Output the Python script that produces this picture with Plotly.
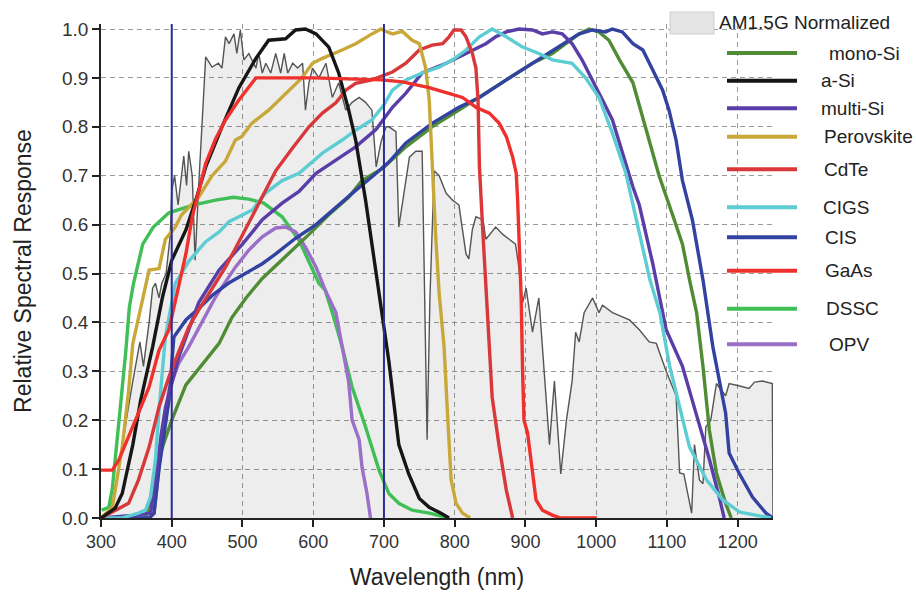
import plotly.graph_objects as go

# ---------------- data ----------------
am_wl = [300, 310, 320, 330, 338, 345, 355, 360, 368, 373, 377, 382, 386, 392, 398, 400, 404, 409, 417, 421, 424, 429,
         433, 438, 448, 457, 466, 471, 476, 481, 488, 492, 497, 502, 509, 519, 523, 528, 533, 540, 547, 554, 559, 564,
         571, 578, 585, 589, 594, 599, 608, 618, 627, 636, 646, 655, 665, 674, 683, 689, 696, 703, 707, 717, 721, 736,
         745, 754, 758, 761, 765, 771, 778, 788, 797, 806, 816, 820, 825, 830, 840, 844, 858, 868, 877, 886, 890, 896,
         901, 910, 919, 927, 934, 941, 950, 958, 966, 971, 976, 983, 995, 1004, 1009, 1023, 1047, 1061, 1075, 1085,
         1099, 1113, 1118, 1124, 1135, 1139, 1146, 1151, 1155, 1162, 1170, 1183, 1188, 1203, 1216, 1224, 1235, 1249,
         1250]
am_val = [0.0, 0.01, 0.05, 0.15, 0.22, 0.28, 0.36, 0.31, 0.40, 0.47, 0.48, 0.45, 0.48, 0.50, 0.58, 0.67, 0.70, 0.64,
          0.74, 0.68, 0.75, 0.70, 0.527, 0.677, 0.943, 0.922, 0.93, 0.92, 0.984, 0.97, 0.99, 0.95, 0.998, 0.937, 0.95,
          0.92, 0.95, 0.91, 0.93, 0.91, 0.95, 0.91, 0.95, 0.91, 0.93, 0.92, 0.93, 0.834, 0.89, 0.92, 0.90, 0.93, 0.86,
          0.89, 0.834, 0.85, 0.86, 0.85, 0.834, 0.718, 0.77, 0.80, 0.80, 0.79, 0.595, 0.738, 0.75, 0.75, 0.45, 0.16,
          0.45, 0.71, 0.70, 0.664, 0.65, 0.64, 0.54, 0.53, 0.59, 0.616, 0.61, 0.57, 0.595, 0.58, 0.57, 0.56, 0.52, 0.44,
          0.47, 0.38, 0.45, 0.30, 0.15, 0.28, 0.09, 0.20, 0.28, 0.38, 0.36, 0.42, 0.45, 0.42, 0.435, 0.42, 0.405, 0.385,
          0.36, 0.357, 0.30, 0.25, 0.092, 0.09, 0.01, 0.15, 0.078, 0.07, 0.186, 0.20, 0.275, 0.25, 0.275, 0.27, 0.265,
          0.278, 0.28, 0.275, 0.0]

mono_si_wl = [363, 370, 377, 400, 420, 448, 467, 485, 505, 528, 561, 580, 594, 622, 650, 669, 698, 731, 768, 806, 835,
              873, 910, 938, 957, 976, 990, 1004, 1018, 1033, 1052, 1070, 1089, 1108, 1122, 1132, 1142, 1151, 1160,
              1170, 1183, 1191]
mono_si = [0.0, 0.04, 0.104, 0.2, 0.272, 0.323, 0.357, 0.41, 0.45, 0.49, 0.534, 0.56, 0.58, 0.62, 0.656, 0.69, 0.715,
           0.759, 0.80, 0.834, 0.86, 0.896, 0.93, 0.95, 0.97, 0.99, 1.0, 0.994, 0.977, 0.937, 0.89, 0.80, 0.70, 0.62,
           0.56, 0.487, 0.42, 0.31, 0.18, 0.092, 0.03, 0.0]

a_si_wl = [300, 320, 330, 345, 356, 373, 387, 400, 420, 434, 448, 471, 495, 519, 537, 561, 575, 589, 604, 622, 636, 650,
           660, 674, 689, 693, 707, 721, 735, 750, 764, 780, 792]
a_si = [0.0, 0.02, 0.05, 0.15, 0.24, 0.35, 0.452, 0.527, 0.589, 0.65, 0.718, 0.80, 0.88, 0.94, 0.977, 0.98, 0.998, 1.0,
        0.99, 0.963, 0.91, 0.835, 0.773, 0.65, 0.50, 0.46, 0.32, 0.15, 0.09, 0.04, 0.022, 0.01, 0.0]

multi_si_wl = [300, 344, 370, 377, 385, 391, 410, 438, 467, 500, 528, 556, 580, 604, 632, 660, 689, 712, 731, 754, 788,
               816, 844, 858, 873, 891, 910, 924, 938, 952, 966, 980, 995, 1009, 1023, 1037, 1052, 1061, 1080, 1099,
               1122, 1141, 1160, 1174, 1181]
multi_si = [0.0, 0.005, 0.01, 0.078, 0.17, 0.225, 0.33, 0.44, 0.507, 0.56, 0.61, 0.644, 0.668, 0.705, 0.732, 0.759,
            0.795, 0.84, 0.869, 0.91, 0.93, 0.95, 0.97, 0.984, 0.994, 1.0, 0.998, 0.99, 0.994, 0.99, 0.97, 0.937, 0.896,
            0.855, 0.814, 0.746, 0.677, 0.64, 0.52, 0.385, 0.31, 0.215, 0.12, 0.043, 0.0]

perov_wl = [300, 316, 330, 339, 345, 355, 368, 382, 391, 405, 414, 438, 457, 476, 490, 499, 513, 537, 556, 584, 599,
            613, 641, 660, 683, 696, 703, 712, 726, 740, 750, 759, 764, 768, 773, 778, 785, 790, 795, 802, 811, 822]
perov = [0.0, 0.022, 0.145, 0.26, 0.357, 0.425, 0.507, 0.51, 0.57, 0.595, 0.62, 0.656, 0.70, 0.73, 0.773, 0.78, 0.807,
         0.834, 0.86, 0.90, 0.93, 0.94, 0.957, 0.97, 0.99, 1.0, 0.995, 0.99, 0.995, 0.977, 0.97, 0.92, 0.855, 0.718,
         0.58, 0.46, 0.35, 0.21, 0.078, 0.03, 0.01, 0.0]

cdte_wl = [300, 320, 339, 353, 368, 382, 396, 410, 424, 438, 457, 476, 495, 523, 547, 570, 594, 613, 632, 646, 660, 683,
           712, 731, 750, 768, 783, 792, 799, 809, 816, 825, 830, 833, 835, 840, 844, 849, 853, 863, 873, 882]
cdte = [0.0, 0.016, 0.03, 0.078, 0.145, 0.227, 0.288, 0.34, 0.39, 0.425, 0.47, 0.513, 0.565, 0.644, 0.71, 0.755, 0.80,
        0.828, 0.849, 0.875, 0.889, 0.896, 0.912, 0.93, 0.957, 0.967, 0.97, 0.984, 0.998, 0.998, 0.984, 0.95, 0.92,
        0.855, 0.718, 0.58, 0.47, 0.35, 0.247, 0.145, 0.057, 0.0]

cigs_wl = [300, 330, 353, 363, 370, 377, 382, 391, 405, 424, 448, 467, 481, 514, 533, 556, 580, 613, 641, 660, 683,
           700, 712, 731, 754, 778, 797, 816, 835, 853, 873, 896, 919, 938, 966, 985, 1004, 1023, 1042, 1061, 1076,
           1090, 1104, 1118, 1132, 1156, 1179, 1203, 1226, 1247]
cigs = [0.0, 0.0, 0.01, 0.016, 0.043, 0.12, 0.22, 0.37, 0.48, 0.525, 0.565, 0.585, 0.606, 0.63, 0.665, 0.69, 0.705,
        0.746, 0.773, 0.793, 0.814, 0.845, 0.875, 0.896, 0.91, 0.922, 0.937, 0.957, 0.984, 1.0, 0.984, 0.963, 0.95,
        0.937, 0.93, 0.90, 0.86, 0.787, 0.705, 0.58, 0.487, 0.42, 0.31, 0.227, 0.145, 0.078, 0.037, 0.012, 0.006,
        0.0]

cis_wl = [300, 368, 375, 382, 389, 396, 403, 420, 443, 457, 480, 505, 528, 547, 575, 604, 632, 660, 689, 707, 731, 768,
          806, 835, 873, 910, 948, 976, 995, 1013, 1023, 1037, 1052, 1066, 1080, 1094, 1103, 1113, 1122, 1136, 1151,
          1165, 1183, 1188, 1202, 1221, 1240, 1250]
cis = [0.0, 0.0, 0.01, 0.1, 0.17, 0.24, 0.37, 0.405, 0.435, 0.455, 0.48, 0.50, 0.52, 0.54, 0.572, 0.60, 0.636, 0.67,
       0.705, 0.728, 0.767, 0.807, 0.84, 0.86, 0.896, 0.93, 0.963, 0.99, 0.998, 0.994, 1.0, 0.994, 0.97, 0.957, 0.916,
       0.875, 0.834, 0.773, 0.69, 0.61, 0.487, 0.35, 0.215, 0.133, 0.092, 0.043, 0.01, 0.0]

gaas_wl = [300, 316, 325, 339, 353, 368, 382, 396, 405, 420, 429, 438, 448, 462, 476, 495, 509, 519, 600, 697, 726, 764,
           788, 811, 830, 849, 863, 873, 882, 887, 889, 892, 894, 896, 898, 903, 910, 915, 924, 938, 950, 1001]
gaas = [0.098, 0.098, 0.118, 0.165, 0.215, 0.268, 0.343, 0.385, 0.446, 0.54, 0.616, 0.67, 0.725, 0.775, 0.814, 0.855,
        0.88, 0.90, 0.90, 0.896, 0.892, 0.88, 0.87, 0.86, 0.84, 0.828, 0.807, 0.78, 0.738, 0.705, 0.65, 0.55, 0.45,
        0.30, 0.20, 0.174, 0.092, 0.037, 0.016, 0.006, 0.0, 0.0]

dssc_wl = [301, 311, 316, 322, 330, 335, 340, 346, 359, 374, 396, 430, 462, 487, 509, 530, 556, 580, 608, 617, 627, 641,
           655, 674, 693, 707, 721, 740, 764, 792]
dssc = [0.016, 0.022, 0.06, 0.145, 0.26, 0.34, 0.43, 0.48, 0.56, 0.595, 0.624, 0.64, 0.65, 0.656, 0.652, 0.644, 0.616,
        0.568, 0.48, 0.466, 0.42, 0.35, 0.268, 0.186, 0.098, 0.05, 0.03, 0.016, 0.01, 0.0]

opv_wl = [300, 368, 375, 382, 389, 396, 410, 424, 443, 462, 471, 490, 509, 528, 547, 561, 575, 589, 604, 617, 632, 641,
          650, 655, 665, 669, 676, 681]
opv = [0.0, 0.0, 0.01, 0.112, 0.2, 0.262, 0.317, 0.35, 0.40, 0.452, 0.472, 0.513, 0.548, 0.575, 0.593, 0.595, 0.585,
       0.554, 0.513, 0.466, 0.42, 0.35, 0.28, 0.2, 0.16, 0.104, 0.05, 0.0]

names = ["mono-Si", "a-Si", "multi-Si", "Perovskite", "CdTe", "CIGS", "CIS", "GaAs", "DSSC", "OPV"]
xs = [mono_si_wl, a_si_wl, multi_si_wl, perov_wl, cdte_wl, cigs_wl, cis_wl, gaas_wl, dssc_wl, opv_wl]
ys = [mono_si, a_si, multi_si, perov, cdte, cigs, cis, gaas, dssc, opv]
colors = ["#4f8c34", "#161616", "#5a3ea8", "#c9a83a", "#d8383a", "#5dcdd3", "#3242a0", "#f0302c", "#3fbf55", "#9b6ec8"]

band_edges = [400, 700]
x_ticks = [300, 400, 500, 600, 700, 800, 900, 1000, 1100, 1200]
y_ticks = [0.0, 0.1, 0.2, 0.3, 0.4, 0.5, 0.6, 0.7, 0.8, 0.9, 1.0]

# ---------------- figure ----------------
W, H = 916, 594
L, R, T, B = 101, 143, 24, 76
PW, PH = W - L - R, H - T - B
FONT = "Liberation Sans, Arial, sans-serif"


def px_x(p):
    return (p - L) / PW


def px_y(p):
    return (H - B - p) / PH


fig = go.Figure()
fig.add_trace(go.Scatter(x=am_wl, y=am_val, mode="lines", fill="tozeroy",
                         fillcolor="rgba(0,0,0,0.07)", line=dict(color="#555555", width=1.4),
                         name="AM1.5G Normalized", showlegend=False, hoverinfo="skip"))

for xv in band_edges:
    fig.add_shape(type="line", xref="x", yref="paper", x0=xv, x1=xv, y0=0, y1=1,
                  line=dict(color="#2b2b95", width=2))

draw_order = [8, 9, 0, 6, 2, 5, 4, 3, 1, 7]
for i in draw_order:
    fig.add_trace(go.Scatter(x=xs[i], y=ys[i], mode="lines", name=names[i],
                             line=dict(color=colors[i], width=3.4), showlegend=False))

# manual legend (layout only)
leg_y_px = [53, 80.7, 108.3, 136.7, 169.3, 207.3, 237.3, 270.7, 308.7, 344.3]
leg_tx_px = [827, 819, 819, 822, 822, 821, 823, 823, 824, 827]
for i, n in enumerate(names):
    yy = px_y(leg_y_px[i])
    fig.add_shape(type="line", xref="paper", yref="paper", x0=px_x(727), x1=px_x(797), y0=yy, y1=yy,
                  line=dict(color=colors[i], width=4))
    fig.add_annotation(xref="paper", yref="paper", x=px_x(leg_tx_px[i]), y=yy, text=n, showarrow=False,
                       xanchor="left", yanchor="middle", font=dict(family=FONT, size=19, color="#222222"))

fig.add_shape(type="rect", xref="paper", yref="paper", x0=px_x(670), x1=px_x(714), y0=px_y(34), y1=px_y(12),
              fillcolor="#e4e4e4", line=dict(color="#cfcfcf", width=1))
fig.add_annotation(xref="paper", yref="paper", x=px_x(717), y=px_y(23), text="AM1.5G Normalized", showarrow=False,
                   xanchor="left", yanchor="middle", font=dict(family=FONT, size=19, color="#222222"))

grid = dict(showgrid=True, gridcolor="#9a9a9a", gridwidth=1, griddash="5px,4px", zeroline=False)
fig.update_layout(
    width=W, height=H, margin=dict(l=L, r=R, t=T, b=B, autoexpand=False),
    paper_bgcolor="white", plot_bgcolor="white",
    font=dict(family=FONT, color="#333333"),
    xaxis=dict(range=[300, 1250], tickvals=x_ticks, ticks="outside", ticklen=7, tickwidth=1.5,
               tickcolor="#222222", showline=True, linecolor="#222222", linewidth=1.5, automargin=False,
               tickfont=dict(size=18, color="#333333"),
               title=dict(text="Wavelength (nm)", font=dict(size=23, color="#222222"), standoff=18), **grid),
    yaxis=dict(range=[0, PH / 489.0], tickvals=y_ticks, tickformat=".1f", ticks="outside", ticklen=7,
               tickwidth=1.5, tickcolor="#222222", showline=True, linecolor="#222222", linewidth=1.5,
               automargin=False, tickfont=dict(size=19, color="#333333"),
               title=dict(text="Relative Spectral Response", font=dict(size=23, color="#222222"), standoff=24),
               **grid),
)

fig.write_html("out.html")
